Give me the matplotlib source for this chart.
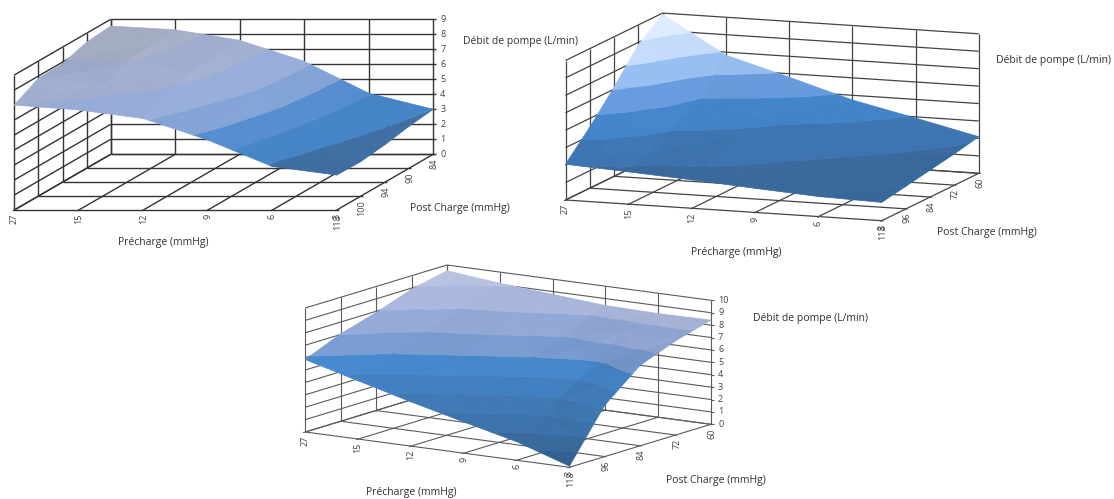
import numpy as np
import matplotlib
matplotlib.use('Agg')
import matplotlib.pyplot as plt
from matplotlib.collections import PolyCollection
from matplotlib.colors import to_rgb

plt.rcParams['font.family'] = ['Open Sans', 'DejaVu Sans']

# tick labels
precharge = ['27', '15', '12', '9', '6', '3']
post_a = ['118', '100', '94', '90', '84']
post_b = ['118', '96', '84', '72', '60']

# pump flow, one row per precharge, one column per post charge
flow_a = [[7.00, 7.85, 7.90, 8.40, 8.55],
          [6.67, 7.30, 8.00, 8.20, 8.30],
          [6.10, 6.80, 7.30, 7.50, 7.60],
          [4.67, 5.30, 5.90, 6.10, 6.20],
          [2.90, 3.20, 3.60, 3.90, 4.07],
          [2.33, 2.30, 2.50, 2.80, 3.00]]

flow_b = [[2.05, 3.50, 5.10, 6.85, 7.93],
          [1.85, 2.33, 3.17, 3.94, 5.83],
          [1.63, 2.27, 2.80, 3.30, 4.80],
          [1.38, 1.80, 2.30, 2.90, 3.73],
          [1.15, 1.50, 1.85, 2.35, 2.93],
          [1.05, 1.30, 1.55, 1.80, 2.10]]

flow_c = [[5.84, 7.05, 7.90, 8.90, 9.54],
          [4.70, 6.00, 7.10, 8.10, 9.10],
          [3.57, 5.30, 6.70, 7.80, 8.77],
          [2.52, 4.40, 6.00, 7.30, 8.44],
          [1.50, 3.60, 5.40, 7.60, 8.36],
          [0.10, 4.15, 6.50, 7.60, 8.40]]

# colour of each one-unit band, lowest first
bands_a = ['#3c6899', '#3c6899', '#3c6899', '#417cb9', '#5083c0',
           '#7a98c8', '#8ea2cb', '#98a5c4', '#a0a8bf']
bands_b = ['#34628f', '#376596', '#3a6fa9', '#3f7cbc', '#6090cd',
           '#8bafdd', '#b4cae8', '#cbd8ec']
bands_c = ['#2f5a88', '#356393', '#396ba0', '#3c71a9', '#3e77b3',
           '#427fbf', '#7192c4', '#8a9fca', '#a0add0', '#adb8d5']


def clip_band(tri, low, high):
    # cut a polygon (x, y, z points) down to the part between two heights
    poly = tri
    for level, keep_above in ((low, True), (high, False)):
        out = []
        for k in range(len(poly)):
            p, q = poly[k], poly[(k + 1) % len(poly)]
            p_in = p[2] >= level if keep_above else p[2] <= level
            q_in = q[2] >= level if keep_above else q[2] <= level
            if p_in:
                out.append(p)
            if p_in != q_in:
                t = (level - p[2]) / (q[2] - p[2])
                out.append(p + t * (q - p))
        poly = out
        if not poly:
            break
    return poly


def draw_chart(ax, flow, bands, xlabels, ylabels, origin, xvec, yvec, height,
               grid='#444444', lw=0.9, zticks=True):
    flow = np.array(flow, dtype=float)
    nx, ny = flow.shape
    nz = len(bands)
    origin = np.array(origin, dtype=float)
    xstep = np.array(xvec, dtype=float) / (nx - 1)
    ystep = np.array(yvec, dtype=float) / (ny - 1)
    unit = height / nz

    def project(i, j, z):
        p = origin + i * xstep + j * ystep
        return p[0], p[1] - z * unit

    def line(a, b):
        ax.plot([a[0], b[0]], [a[1], b[1]], color=grid, lw=lw, zorder=1,
                solid_capstyle='butt')

    # back wall, side wall and floor
    for k in range(nz + 1):
        line(project(0, ny - 1, k), project(nx - 1, ny - 1, k))
        line(project(0, 0, k), project(0, ny - 1, k))
    for i in range(nx):
        line(project(i, ny - 1, 0), project(i, ny - 1, nz))
        line(project(i, -0.06, 0), project(i, ny - 1, 0))
    for j in range(ny):
        line(project(0, j, 0), project(0, j, nz))
        line(project(0, j, 0), project(nx - 1 + 0.03, j, 0))

    # surface: each cell is four triangles round its centre, cut in bands
    polys, colors = [], []
    for j in range(ny - 2, -1, -1):
        for i in range(nx - 1):
            centre = np.array([i + .5, j + .5, flow[i:i + 2, j:j + 2].mean()])
            corners = [np.array([i, j, flow[i, j]]),
                       np.array([i + 1, j, flow[i + 1, j]]),
                       np.array([i + 1, j + 1, flow[i + 1, j + 1]]),
                       np.array([i, j + 1, flow[i, j + 1]])]
            # back triangle first so the front ones paint over it
            for a in (2, 1, 3, 0):
                tri = [corners[a], corners[(a + 1) % 4], centre]
                n = np.cross(tri[1] - tri[0], tri[2] - tri[0])
                n = n / np.linalg.norm(n) * np.sign(n[2])
                shade = 1 + 0.08 * n[0] - 0.05 * n[1]
                for b in range(nz):
                    part = clip_band(tri, b, b + 1)
                    if len(part) < 3:
                        continue
                    polys.append([project(*p) for p in part])
                    rgb = np.clip(np.array(to_rgb(bands[b])) * shade, 0, 1)
                    colors.append(rgb)
    ax.add_collection(PolyCollection(polys, facecolors=colors,
                                     edgecolors=colors, linewidths=0.5,
                                     zorder=2))

    # tick labels
    for i, lab in enumerate(xlabels):
        x, y = project(i, 0, 0)
        ax.text(x, y + 4, lab, rotation=90, ha='center', va='top',
                fontsize=6.5, color='#404040', zorder=3)
    for j, lab in enumerate(ylabels):
        x, y = project(nx - 1, j, 0)
        ax.text(x + 1, y + 4, lab, rotation=90, ha='center', va='top',
                fontsize=6.5, color='#404040', zorder=3)
    if zticks:
        for k in range(nz + 1):
            x, y = project(nx - 1, ny - 1, k)
            line((x, y), (x + 3, y))
            ax.text(x + 7, y, str(k), ha='left', va='center',
                    fontsize=6.5, color='#404040', zorder=3)


fig = plt.figure(figsize=(11.14, 4.99), dpi=100)
ax = fig.add_axes([0, 0, 1, 1])
ax.set_xlim(0, 1114)
ax.set_ylim(499, 0)
ax.axis('off')

draw_chart(ax, flow_a, bands_a, precharge, post_a, (14.3, 210), (322.5, 0),
           (96.4, -55.7), 135, grid='#333333', lw=1.0)
draw_chart(ax, flow_b, bands_b, precharge, post_b, (565.5, 200), (316.2, 20.7),
           (97.1, -47.4), 139.5, grid='#444444', lw=0.9, zticks=False)
draw_chart(ax, flow_c, bands_c, precharge, post_b, (305.3, 432), (264.1, 35.3),
           (141.6, -43), 124, grid='#5a5a5a', lw=0.8)

# axis titles
titles = [(463, 41, 'Débit de pompe (L/min)'), (410, 208, 'Post Charge (mmHg)'),
          (118, 242, 'Précharge (mmHg)'),
          (996, 60, 'Débit de pompe (L/min)'), (937, 232, 'Post Charge (mmHg)'),
          (691, 252, 'Précharge (mmHg)'),
          (753, 319, 'Débit de pompe (L/min)'), (666, 481, 'Post Charge (mmHg)'),
          (366, 492, 'Précharge (mmHg)')]
for x, y, s in titles:
    ax.text(x, y, s, ha='left', va='center', fontsize=7.5, color='#303030')

fig.savefig('out.png', dpi=100)
